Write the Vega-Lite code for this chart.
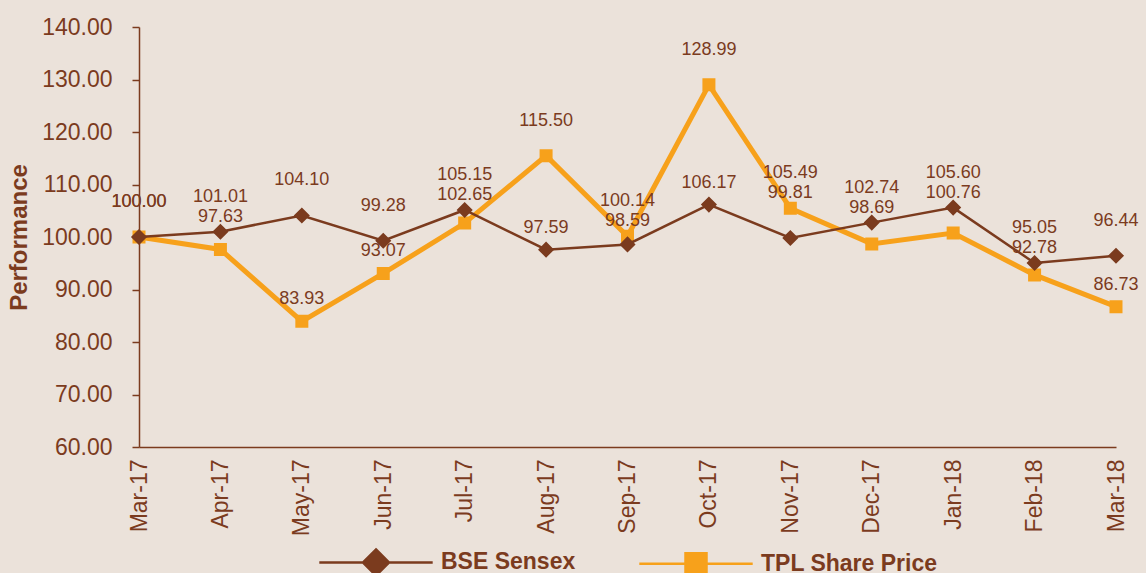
{
  "$schema": "https://vega.github.io/schema/vega-lite/v6.json",
  "width": 977,
  "height": 420,
  "autosize": {"type": "none"},
  "padding": {"left": 139, "top": 27, "right": 30, "bottom": 126},
  "background": "#ebe2da",
  "config": {
    "view": {"stroke": null},
    "font": "Liberation Sans",
    "axis": {
      "labelColor": "#7b3b1e",
      "titleColor": "#7b3b1e",
      "domainColor": "#7b3b1e",
      "tickColor": "#7b3b1e",
      "domainWidth": 1.5,
      "tickWidth": 1.5,
      "grid": false,
      "labelFont": "Liberation Sans",
      "titleFont": "Liberation Sans",
      "labelFontSize": 23
    }
  },
  "data": {
    "values": [
      {"month": "Mar-17", "series": "TPL Share Price", "value": 100.00},
      {"month": "Apr-17", "series": "TPL Share Price", "value": 97.63},
      {"month": "May-17", "series": "TPL Share Price", "value": 83.93},
      {"month": "Jun-17", "series": "TPL Share Price", "value": 93.07},
      {"month": "Jul-17", "series": "TPL Share Price", "value": 102.65},
      {"month": "Aug-17", "series": "TPL Share Price", "value": 115.50},
      {"month": "Sep-17", "series": "TPL Share Price", "value": 100.14},
      {"month": "Oct-17", "series": "TPL Share Price", "value": 128.99},
      {"month": "Nov-17", "series": "TPL Share Price", "value": 105.49},
      {"month": "Dec-17", "series": "TPL Share Price", "value": 98.69},
      {"month": "Jan-18", "series": "TPL Share Price", "value": 100.76},
      {"month": "Feb-18", "series": "TPL Share Price", "value": 92.78},
      {"month": "Mar-18", "series": "TPL Share Price", "value": 86.73},
      {"month": "Mar-17", "series": "BSE Sensex", "value": 100.00},
      {"month": "Apr-17", "series": "BSE Sensex", "value": 101.01},
      {"month": "May-17", "series": "BSE Sensex", "value": 104.10},
      {"month": "Jun-17", "series": "BSE Sensex", "value": 99.28},
      {"month": "Jul-17", "series": "BSE Sensex", "value": 105.15},
      {"month": "Aug-17", "series": "BSE Sensex", "value": 97.59},
      {"month": "Sep-17", "series": "BSE Sensex", "value": 98.59},
      {"month": "Oct-17", "series": "BSE Sensex", "value": 106.17},
      {"month": "Nov-17", "series": "BSE Sensex", "value": 99.81},
      {"month": "Dec-17", "series": "BSE Sensex", "value": 102.74},
      {"month": "Jan-18", "series": "BSE Sensex", "value": 105.60},
      {"month": "Feb-18", "series": "BSE Sensex", "value": 95.05},
      {"month": "Mar-18", "series": "BSE Sensex", "value": 96.44}
    ]
  },
  "encoding": {
    "x": {
      "field": "month",
      "type": "ordinal",
      "sort": ["Mar-17", "Apr-17", "May-17", "Jun-17", "Jul-17", "Aug-17", "Sep-17", "Oct-17", "Nov-17", "Dec-17", "Jan-18", "Feb-18", "Mar-18"],
      "scale": {"type": "point", "padding": 0},
      "axis": {"title": null, "labelAngle": -90, "ticks": false, "labelPadding": 12}
    },
    "y": {
      "field": "value",
      "type": "quantitative",
      "scale": {"domain": [60, 140], "nice": false, "zero": false},
      "axis": {
        "title": "Performance",
        "titleFontSize": 24,
        "titleFontWeight": "bold",
        "titlePadding": 10,
        "values": [60, 70, 80, 90, 100, 110, 120, 130, 140],
        "format": ".2f",
        "tickSize": 7,
        "labelPadding": 20
      }
    }
  },
  "layer": [
    {
      "transform": [{"filter": "datum.series === 'TPL Share Price'"}],
      "mark": {"type": "line", "color": "#f7a11b", "strokeWidth": 5}
    },
    {
      "transform": [{"filter": "datum.series === 'TPL Share Price'"}],
      "mark": {"type": "point", "filled": true, "size": 169, "opacity": 1, "strokeWidth": 0},
      "encoding": {
        "fill": {"field": "series", "type": "nominal", "scale": {"domain": ["BSE Sensex", "TPL Share Price"], "range": ["#7b3b1e", "#f7a11b"]}, "legend": {"title": null, "orient": "none", "direction": "horizontal", "legendX": 225, "legendY": 523, "padding": 0, "symbolSize": 441, "symbolStrokeWidth": 2.5, "labelOffset": 53, "columnPadding": 58, "labelLimit": 400, "labelFontSize": 23, "labelFontWeight": "bold", "labelColor": "#7b3b1e", "labelFont": "Liberation Sans"}},
        "stroke": {"field": "series", "type": "nominal", "scale": {"domain": ["BSE Sensex", "TPL Share Price"], "range": ["#7b3b1e", "#f7a11b"]}, "legend": {"title": null, "orient": "none", "direction": "horizontal", "legendX": 225, "legendY": 523, "padding": 0, "symbolSize": 441, "symbolStrokeWidth": 2.5, "labelOffset": 53, "columnPadding": 58, "labelLimit": 400, "labelFontSize": 23, "labelFontWeight": "bold", "labelColor": "#7b3b1e", "labelFont": "Liberation Sans"}},
        "shape": {"field": "series", "type": "nominal", "scale": {"domain": ["BSE Sensex", "TPL Share Price"], "range": ["M-5.4,0H-1.24M1.24,0H5.4M0,-1.24L1.24,0L0,1.24L-1.24,0Z", "M-5.4,0H-1M1,0H5.4M-1,-1H1V1H-1Z"]}, "legend": {"title": null, "orient": "none", "direction": "horizontal", "legendX": 225, "legendY": 523, "padding": 0, "symbolSize": 441, "symbolStrokeWidth": 2.5, "labelOffset": 53, "columnPadding": 58, "labelLimit": 400, "labelFontSize": 23, "labelFontWeight": "bold", "labelColor": "#7b3b1e", "labelFont": "Liberation Sans"}}
      }
    },
    {
      "transform": [{"filter": "datum.series === 'BSE Sensex'"}],
      "mark": {"type": "line", "color": "#7b3b1e", "strokeWidth": 2.5}
    },
    {
      "transform": [{"filter": "datum.series === 'BSE Sensex'"}],
      "mark": {"type": "point", "filled": true, "size": 169, "opacity": 1, "strokeWidth": 0},
      "encoding": {
        "fill": {"field": "series", "type": "nominal"},
        "stroke": {"field": "series", "type": "nominal"},
        "shape": {"field": "series", "type": "nominal"}
      }
    },
    {
      "transform": [
        {"joinaggregate": [{"op": "max", "field": "value", "as": "maxv"}], "groupby": ["month"]},
        {"filter": "datum.value === datum.maxv"}
      ],
      "mark": {"type": "text", "dy": -35, "fontSize": 18, "color": "#7b3b1e", "font": "Liberation Sans"},
      "encoding": {"text": {"field": "value", "type": "quantitative", "format": ".2f"}}
    },
    {
      "transform": [
        {"joinaggregate": [{"op": "max", "field": "value", "as": "maxv"}], "groupby": ["month"]},
        {"filter": "datum.value < datum.maxv && datum.maxv - datum.value < 6"}
      ],
      "mark": {"type": "text", "dy": -15, "fontSize": 18, "color": "#7b3b1e", "font": "Liberation Sans"},
      "encoding": {
        "y": {"field": "maxv", "type": "quantitative"},
        "text": {"field": "value", "type": "quantitative", "format": ".2f"}
      }
    },
    {
      "transform": [
        {"joinaggregate": [{"op": "max", "field": "value", "as": "maxv"}], "groupby": ["month"]},
        {"filter": "datum.maxv - datum.value >= 6"}
      ],
      "mark": {"type": "text", "dy": -22, "fontSize": 18, "color": "#7b3b1e", "font": "Liberation Sans"},
      "encoding": {"text": {"field": "value", "type": "quantitative", "format": ".2f"}}
    }
  ]
}
